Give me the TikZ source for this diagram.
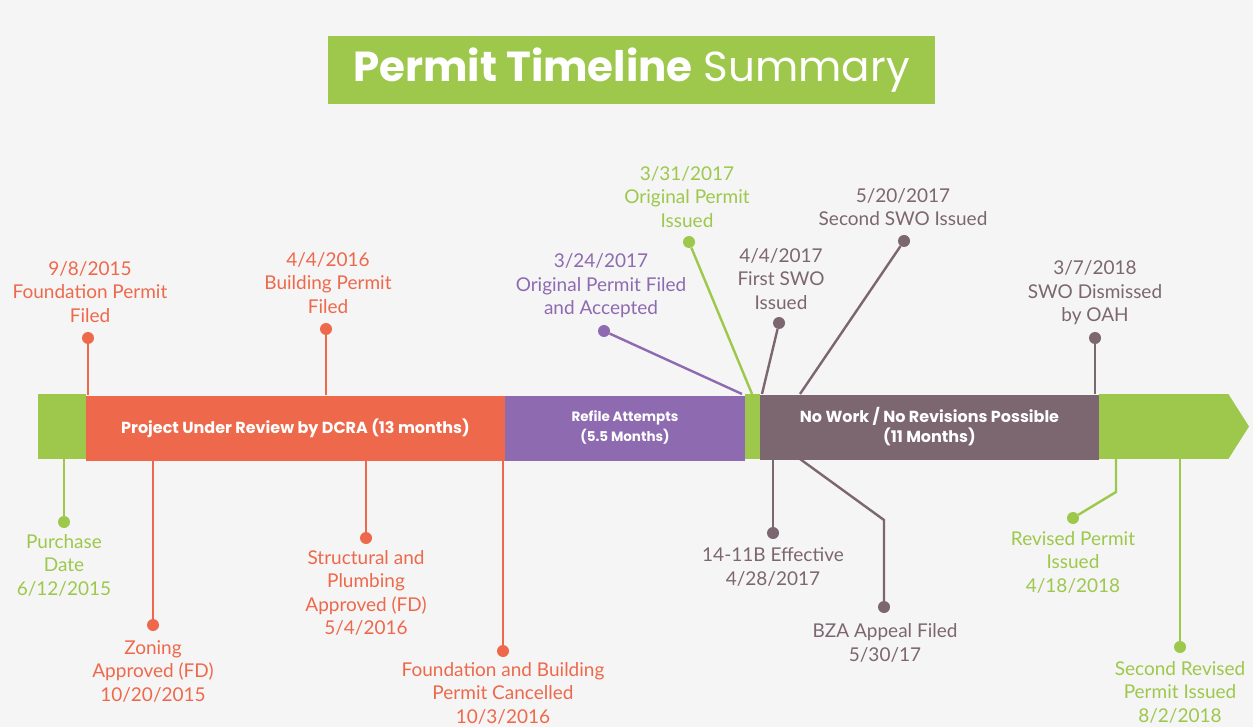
\documentclass[tikz,border=0pt]{standalone}
\usepackage{fontspec}
\setmainfont{Lato}
\newfontfamily\barfont{Poppins}
\usetikzlibrary{positioning}
\definecolor{tlGreen}{HTML}{9DC84B}
\definecolor{tlOrange}{HTML}{EE694C}
\definecolor{tlPurple}{HTML}{8E6BB0}
\definecolor{tlBrown}{HTML}{7C6670}
\definecolor{tlBack}{HTML}{F5F5F5}
\tikzset{
  seg/.style={minimum height=65pt, inner sep=0pt, text=white, align=center,
              font=\barfont\bfseries\fontsize{16}{20}\selectfont},
  evdot/.style={circle, fill=#1, minimum size=12pt, inner sep=0pt},
  evline/.style={line width=2.4pt, draw=#1},
  lbl/.style={text=#1, font=\fontsize{19}{23.5}\selectfont, align=center, inner sep=0pt},
}

\begin{document}
\begin{tikzpicture}[x=1pt, y=-1pt]
  \useasboundingbox (0,0) rectangle (1253,727);
  \fill[tlBack] (0,0) rectangle (1253,727);

  % title
  \node[fill=tlGreen, minimum width=607pt, minimum height=68pt, inner sep=0pt, text=white,
        font=\barfont\fontsize{42}{44}\selectfont] (title) at (631.5,70)
        {{\bfseries Permit Timeline} Summary};

  % the bar
  \node[seg, fill=tlGreen, minimum width=48pt] (buy) at (62,426.5) {};
  \node[seg, fill=tlOrange, minimum width=419pt] (review) at (295.5,428)
        {Project Under Review by DCRA (13 months)};
  \node[seg, fill=tlPurple, minimum width=240pt, font=\barfont\bfseries\fontsize{13.5}{20}\selectfont]
        (refile) at (625,428) {Refile Attempts\\(5.5 Months)};
  \node[seg, fill=tlGreen, minimum width=15pt] (issued) at (752.5,426.5) {};
  \node[seg, fill=tlBrown, minimum width=339pt] (nowork) at (929.5,427)
        {No Work / No Revisions Possible\\(11 Months)};
  \node[seg, fill=tlGreen, minimum width=129pt] (tail) at (1163.5,426.5) {};
  \fill[tlGreen] (tail.north east) -- (1249,426.5) -- (tail.south east) -- cycle;

  % events above
  \node[evdot=tlOrange] (fpf) at (88,338) {};
  \node[lbl=tlOrange] at (90,292) {9/8/2015\\Foundation Permit\\Filed};
  \draw[evline=tlOrange] (fpf) -- (fpf |- review.north);

  \node[evdot=tlOrange] (bpf) at (326,329) {};
  \node[lbl=tlOrange] at (328,283) {4/4/2016\\Building Permit\\Filed};
  \draw[evline=tlOrange] (bpf) -- (bpf |- review.north);

  \coordinate (opfAt) at (742,394);
  \node[evdot=tlPurple] (opf) at (604,331) {};
  \node[lbl=tlPurple] at (601,286) {3/24/2017\\Original Permit Filed\\and Accepted};
  \draw[evline=tlPurple] (opf) -- (opfAt);

  \coordinate (opiAt) at (752,394);
  \node[evdot=tlGreen] (opi) at (689,242) {};
  \node[lbl=tlGreen] at (687,197) {3/31/2017\\Original Permit\\Issued};
  \draw[evline=tlGreen] (opi) -- (opiAt);

  \coordinate (swoAt) at (762,394);
  \node[evdot=tlBrown] (swo) at (779,323) {};
  \node[lbl=tlBrown] at (781,279) {4/4/2017\\First SWO\\Issued};
  \draw[evline=tlBrown] (swo) -- (swoAt);

  \coordinate (swotAt) at (800,394);
  \node[evdot=tlBrown] (swot) at (904,241) {};
  \node[lbl=tlBrown] at (903,207) {5/20/2017\\Second SWO Issued};
  \draw[evline=tlBrown] (swot) -- (swotAt);

  \node[evdot=tlBrown] (oah) at (1095,338) {};
  \node[lbl=tlBrown] at (1095,293) {3/7/2018\\SWO Dismissed\\by OAH};
  \draw[evline=tlBrown] (oah) -- (oah |- nowork.north);

  % events below
  \node[evdot=tlGreen] (pd) at (64,522) {};
  \node[lbl=tlGreen] at (64,565) {Purchase\\Date\\6/12/2015};
  \draw[evline=tlGreen] (pd) -- (pd |- buy.south);

  \node[evdot=tlOrange] (zon) at (153,625) {};
  \node[lbl=tlOrange] at (153,671) {Zoning\\Approved (FD)\\10/20/2015};
  \draw[evline=tlOrange] (zon) -- (zon |- review.south);

  \node[evdot=tlOrange] (spa) at (366,538) {};
  \node[lbl=tlOrange] at (366,593) {Structural and\\Plumbing\\Approved (FD)\\5/4/2016};
  \draw[evline=tlOrange] (spa) -- (spa |- review.south);

  \node[evdot=tlOrange] (fbc) at (503,651) {};
  \node[lbl=tlOrange] at (503,693) {Foundation and Building\\Permit Cancelled\\10/3/2016};
  \draw[evline=tlOrange] (fbc) -- (fbc |- review.south);

  \node[evdot=tlBrown] (eff) at (773,533) {};
  \node[lbl=tlBrown] at (773,567) {14-11B Effective\\4/28/2017};
  \draw[evline=tlBrown] (eff) -- (eff |- nowork.south);

  \coordinate (bzaAt) at (800,459);
  \node[evdot=tlBrown] (bza) at (884,607) {};
  \node[lbl=tlBrown] at (885,643) {BZA Appeal Filed\\5/30/17};
  \draw[evline=tlBrown] (bzaAt) -- (884,520) -- (bza);

  \coordinate (rpAt) at (1116,459);
  \node[evdot=tlGreen] (rp) at (1073,518) {};
  \node[lbl=tlGreen] at (1073,562) {Revised Permit\\Issued\\4/18/2018};
  \draw[evline=tlGreen] (rpAt) -- (1116,492) -- (rp);

  \node[evdot=tlGreen] (srp) at (1180,647) {};
  \node[lbl=tlGreen] at (1180,692) {Second Revised\\Permit Issued\\8/2/2018};
  \draw[evline=tlGreen] (srp) -- (srp |- tail.south);
\end{tikzpicture}
\end{document}
